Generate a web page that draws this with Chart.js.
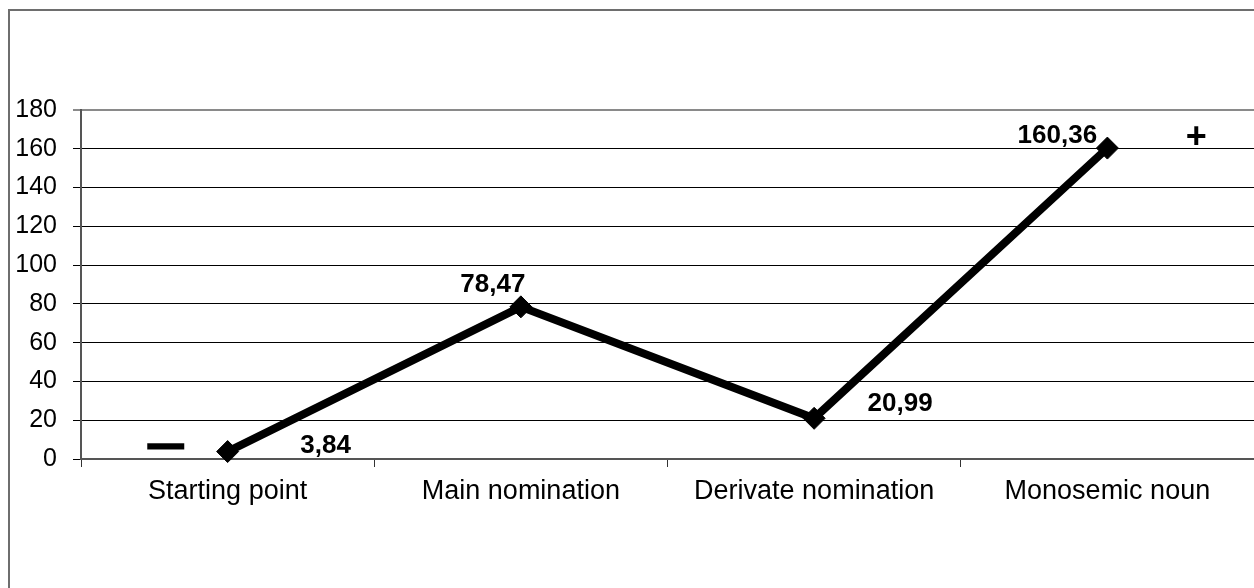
<!DOCTYPE html>
<html>
<head>
<meta charset="utf-8">
<script src="https://cdn.jsdelivr.net/npm/chart.js@4/dist/chart.umd.min.js"></script>
<style>
  html, body { margin: 0; padding: 0; background: #fff; }
  #wrap { width: 1254px; height: 588px; position: relative; }
</style>
</head>
<body>
<div id="wrap"><canvas id="c" width="1254" height="588"></canvas></div>
<script>
const categories = ['Starting point', 'Main nomination', 'Derivate nomination', 'Monosemic noun'];
const values = [3.84, 78.47, 20.99, 160.36];
const yTicks = [0, 20, 40, 60, 80, 100, 120, 140, 160, 180];
const signLow = '—';
const signHigh = '+';

const FONT = '"Liberation Sans", Arial, sans-serif';

const framePlugin = {
  id: 'frame',
  beforeDraw(chart) {
    const ctx = chart.ctx;
    ctx.save();
    ctx.strokeStyle = '#6e6e6e';
    ctx.lineWidth = 2;
    ctx.beginPath();
    ctx.moveTo(9, chart.height);
    ctx.lineTo(9, 10);
    ctx.lineTo(chart.width, 10);
    ctx.stroke();
    ctx.restore();
  }
};

const labelPlugin = {
  id: 'valueLabels',
  afterDatasetsDraw(chart) {
    const ctx = chart.ctx;
    const meta = chart.getDatasetMeta(0);
    // label offsets relative to each point (center x, baseline y)
    const offs = [[98, 1], [-28, -15], [86, -7], [-50, -5]];
    ctx.save();
    ctx.fillStyle = '#000';
    ctx.font = 'bold 26px ' + FONT;
    ctx.textAlign = 'center';
    ctx.textBaseline = 'alphabetic';
    meta.data.forEach((pt, i) => {
      const txt = values[i].toFixed(2).replace('.', ',');
      ctx.fillText(txt, pt.x + offs[i][0], pt.y + offs[i][1]);
    });
    // sign annotations
    const p0 = meta.data[0], p3 = meta.data[3];
    ctx.font = 'bold 34px ' + FONT;
    ctx.textBaseline = 'middle';
    ctx.lineWidth = 3;
    ctx.strokeStyle = '#000';
    ctx.fillText(signLow, p0.x - 62, p0.y - 6);
    ctx.strokeText(signLow, p0.x - 62, p0.y - 6);
    ctx.font = 'bold 36px ' + FONT;
    ctx.fillText(signHigh, p3.x + 89, p3.y - 10);
    ctx.restore();
  }
};

new Chart(document.getElementById('c'), {
  type: 'line',
  data: {
    labels: categories,
    datasets: [{
      data: values,
      borderColor: '#000',
      borderWidth: 8,
      backgroundColor: '#000',
      pointStyle: 'rectRot',
      pointRadius: 11,
      pointBorderWidth: 1,
      pointBackgroundColor: '#000',
      pointBorderColor: '#000',
      tension: 0,
      fill: false,
      clip: false
    }]
  },
  options: {
    responsive: false,
    animation: false,
    devicePixelRatio: 1,
    layout: { autoPadding: false, padding: { top: 110, left: 0, right: 0, bottom: 0 } },
    plugins: { legend: { display: false }, tooltip: { enabled: false } },
    scales: {
      x: {
        type: 'category',
        offset: true,
        afterFit(s) { s.height = 129; s.paddingLeft = 0; s.paddingRight = 0; },
        grid: {
          offset: true,
          drawOnChartArea: false,
          drawTicks: true,
          tickLength: 8,
          color: '#333',
          lineWidth: 1
        },
        border: { display: true, color: '#555', width: 2 },
        ticks: {
          color: '#000',
          font: { family: FONT, size: 27 },
          padding: 8,
          maxRotation: 0,
          autoSkip: false
        }
      },
      y: {
        min: 0,
        max: 180,
        afterFit(s) { s.width = 81; s.paddingTop = 0; s.paddingBottom = 0; },
        afterBuildTicks(s) { s.ticks = yTicks.map(v => ({ value: v })); },
        grid: {
          color: (c) => (c.tick && c.tick.value === 180) ? '#8a8a8a' : '#000',
          lineWidth: (c) => (c.tick && c.tick.value === 180) ? 2 : 1,
          tickLength: 8,
          drawTicks: true
        },
        border: { display: true, color: '#555', width: 2 },
        ticks: {
          color: '#000',
          font: { family: FONT, size: 25 },
          padding: 16
        }
      }
    }
  },
  plugins: [framePlugin, labelPlugin]
});
</script>
</body>
</html>
